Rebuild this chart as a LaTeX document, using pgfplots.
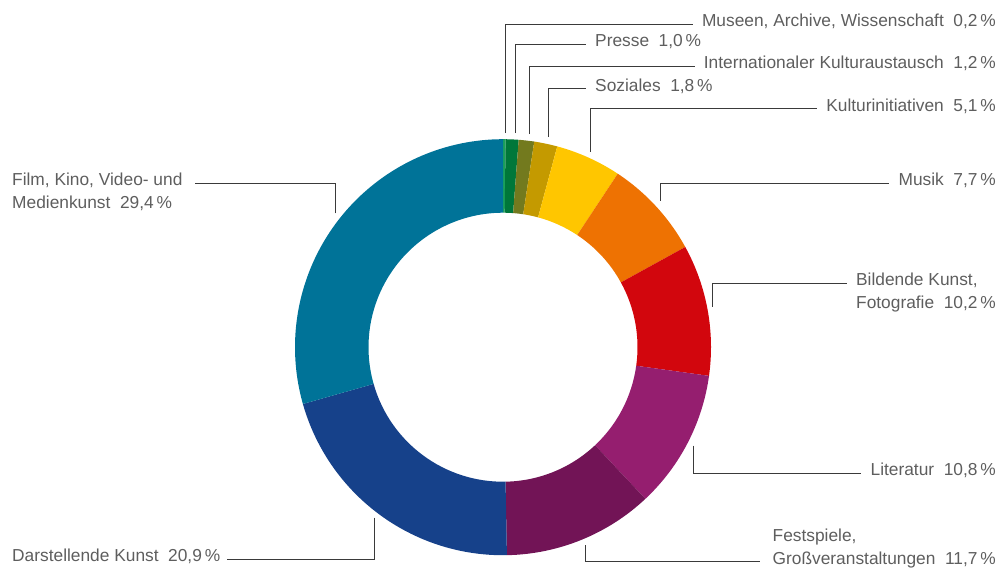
\documentclass[border=0pt]{standalone}
\usepackage{fontspec}
\setmainfont{Liberation Sans}
\usepackage{pgfplots}
\pgfplotsset{compat=1.18}

\definecolor{cMus}{HTML}{1AA15A}
\definecolor{cPre}{HTML}{00773A}
\definecolor{cInt}{HTML}{737A1E}
\definecolor{cSoz}{HTML}{C49A00}
\definecolor{cKul}{HTML}{FFC600}
\definecolor{cMsk}{HTML}{EE7202}
\definecolor{cBil}{HTML}{D2060D}
\definecolor{cLit}{HTML}{951E6F}
\definecolor{cFes}{HTML}{721456}
\definecolor{cDar}{HTML}{16418A}
\definecolor{cFil}{HTML}{007398}
\definecolor{txt}{HTML}{5E5E5E}
\definecolor{lead}{HTML}{3A3A3A}

\newcommand\val[1]{\hspace{0.55em}#1\,\%}

\begin{document}
\begin{tikzpicture}[
    lbl/.style={inner sep=0pt, text=txt, font=\fontsize{17.4}{20}\selectfont},
    ln/.style={draw=lead, line width=0.9bp},
]
\begin{axis}[
    width=999bp, height=570bp, scale only axis,
    hide axis, clip=false, enlargelimits=false,
    xmin=0, xmax=999, ymin=0, ymax=570, y dir=reverse,
]
\path (axis cs:0,0) rectangle (axis cs:999,570);

% donut, clockwise from the top, shares in percent
\pgfplotsextra{
  \gdef\acc{0}
  \foreach \v/\c in {0.2/cMus, 1.0/cPre, 1.2/cInt, 1.8/cSoz, 5.1/cKul,
                     7.7/cMsk, 10.2/cBil, 10.8/cLit, 11.7/cFes, 20.9/cDar, 29.4/cFil}{
    \pgfmathsetmacro\a{90-3.6*\acc}
    \pgfmathsetmacro\b{90-3.6*(\acc+\v)}
    \fill[\c] (axis cs:503,347.2) ++(\a:208bp)
      arc[start angle=\a, end angle=\b, radius=208bp]
      -- ++(\b:-73.5bp)
      arc[start angle=\b, end angle=\a, radius=134.5bp] -- cycle;
    \pgfmathsetmacro\n{\acc+\v}\xdef\acc{\n}
  }
}

% labels
\node[lbl, anchor=mid east] (l1) at (axis cs:996,24) {Museen, Archive, Wissenschaft\val{0,2}};
\node[lbl, anchor=mid west] (l2) at (axis cs:595,44.3) {Presse\val{1,0}};
\node[lbl, anchor=mid east] (l3) at (axis cs:996,66.3) {Internationaler Kulturaustausch\val{1,2}};
\node[lbl, anchor=mid west] (l4) at (axis cs:595,88.7) {Soziales\val{1,8}};
\node[lbl, anchor=mid east] (l5) at (axis cs:996,108.7) {Kulturinitiativen\val{5,1}};
\node[lbl, anchor=mid east] (l6) at (axis cs:996,183.3) {Musik\val{7,7}};
\node[lbl, anchor=mid east] (l7b) at (axis cs:996,305.5) {Fotografie\val{10,2}};
\node[lbl, anchor=mid west] (l7) at (l7b.mid west |- {axis cs:0,283.3}) {Bildende Kunst,};
\node[lbl, anchor=mid east] (l8) at (axis cs:996,473.3) {Literatur\val{10,8}};
\node[lbl, anchor=mid east] (l9) at (axis cs:996,561.7) {Großveranstaltungen\val{11,7}};
\node[lbl, anchor=mid west] (l9a) at (l9.mid west |- {axis cs:0,538.5}) {Festspiele,};
\node[lbl, anchor=mid west] (l10) at (axis cs:12,559) {Darstellende Kunst\val{20,9}};
\node[lbl, anchor=mid west] (l11) at (axis cs:12,183.3) {Film, Kino, Video- und};
\node[lbl, anchor=mid west] (l11b) at (axis cs:12,206) {Medienkunst\val{29,4}};

% leader lines
\draw[ln] (axis cs:505.7,133) |- ([xshift=-9bp]l1.mid west);
\draw[ln] (axis cs:515.7,133) |- ([xshift=-9bp]l2.mid west);
\draw[ln] (axis cs:529.3,134) |- ([xshift=-9bp]l3.mid west);
\draw[ln] (axis cs:548.3,137) |- ([xshift=-9bp]l4.mid west);
\draw[ln] (axis cs:590.3,151.7) |- ([xshift=-9bp]l5.mid west);
\draw[ln] (axis cs:660,200.7) |- ([xshift=-9bp]l6.mid west);
\draw[ln] (axis cs:712.7,306.7) |- ([xshift=-9bp]l7.mid west);
\draw[ln] (axis cs:693.3,445.7) |- ([xshift=-9bp]l8.mid west);
\draw[ln] (axis cs:585,545) |- ([xshift=-12bp]l9.mid west);
\draw[ln] (axis cs:374.3,517.7) |- ([xshift=7bp]l10.mid east);
\draw[ln] (axis cs:335.7,213.3) |- ([xshift=12bp]l11.mid east);

\end{axis}
\end{tikzpicture}
\end{document}
